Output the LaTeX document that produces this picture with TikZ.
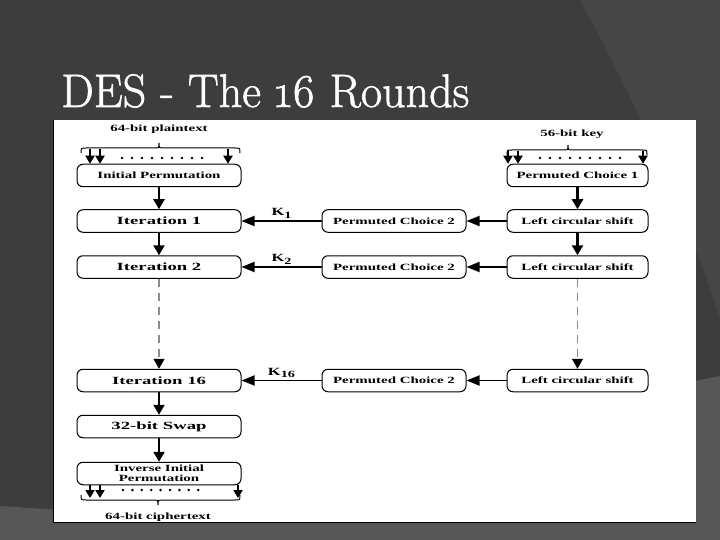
\documentclass[tikz,border=0pt]{standalone}
\usepackage{fontspec}
\newfontfamily\tms{Liberation Serif}
\newfontfamily\ttl[Numbers=OldStyle,FakeBold=1.3]{Latin Modern Roman}
\usetikzlibrary{arrows.meta}
\definecolor{bgdark}{HTML}{3D3D3D}
\definecolor{bgmid}{HTML}{464646}
\definecolor{bglight}{HTML}{575757}
\definecolor{dashgray}{HTML}{8C8C8C}
\newcommand\lbl[1]{\scalebox{1.57}[1]{\tms\fontsize{9.5}{10}\selectfont\bfseries #1}}
\newcommand\blbl[1]{\scalebox{1.7}[1]{\tms\fontsize{11}{12}\selectfont\bfseries #1}}
\newcommand\klbl[1]{\scalebox{1.5}[1]{\tms\fontsize{11}{12}\selectfont\bfseries K\raisebox{-2.5pt}{\fontsize{9.5}{10}\selectfont #1}}}
\newcommand\bracedown[4]{\draw[line width=1pt] (#1,#3+5) .. controls (#1,#3) .. (#1+5,#3) -- (#4-5,#3) .. controls (#4,#3) .. (#4,#3-5) .. controls (#4,#3) .. (#4+5,#3) -- (#2-5,#3) .. controls (#2,#3) .. (#2,#3+5);}
\newcommand\braceup[4]{\draw[line width=1pt] (#1,#3-5) .. controls (#1,#3) .. (#1+5,#3) -- (#4-5,#3) .. controls (#4,#3) .. (#4,#3+5) .. controls (#4,#3) .. (#4+5,#3) -- (#2-5,#3) .. controls (#2,#3) .. (#2,#3-5);}
\newcommand\dotrow[3]{\foreach \i in {0,...,8} {\fill (#1+\i*#3,#2) circle (1.4);}}
\begin{document}
\begin{tikzpicture}[x=1pt,y=-1pt,
  box/.style={draw, rounded corners=6pt, line width=1pt, inner sep=0pt, minimum height=22.5pt},
  lbox/.style={box, minimum width=164pt},
  rbox/.style={box, minimum width=141pt},
  mbox/.style={box, minimum width=144pt},
  thick arrow/.style={line width=2.4pt, -{Triangle[length=10pt,width=11pt]}},
  harrow/.style={line width=1.8pt, -{Triangle[length=13pt,width=10pt]}},
  inarrow/.style={line width=1.8pt, -{Triangle[length=8pt,width=9pt]}},
  dasharrow/.style={draw=dashgray, line width=1.2pt, dash pattern=on 8pt off 6pt, -{Triangle[length=10pt,width=11pt,color=black,fill=black]}},
  plain/.style={inner sep=0pt}
]
\useasboundingbox (0,0) rectangle (720,540);
% slide background
\fill[bgdark] (0,0) rectangle (720,540);
\fill[bgmid] (580,0) .. controls (630,90) and (690,220) .. (720,320) -- (720,0) -- cycle;
\fill[bglight] (0,506) -- (60,510) -- (720,376) -- (720,540) -- (0,540) -- cycle;
\node[anchor=base west, inner sep=0pt, text=white] (title) at (61,107)
  {\scalebox{0.98}[1]{\ttl\fontsize{47}{50}\selectfont DES - The 16 Rounds}};
% white panel
\fill[white] (53,120) rectangle (696,522);
\draw[black, line width=1pt] (53,120) -- (53,522) -- (696,522);

% left column
\node[plain] (pt) at (159,129) {\lbl{64-bit plaintext}};
\node[lbox] (ip) at (159,175.5) {\lbl{Initial Permutation}};
\node[lbox] (it1) at (159,221) {\blbl{Iteration 1}};
\node[lbox] (it2) at (159,267) {\blbl{Iteration 2}};
\node[lbox] (it16) at (159,380.5) {\blbl{Iteration 16}};
\node[lbox] (sw) at (159,426.5) {\blbl{32-bit Swap}};
\node[lbox, align=center] (iip) at (159,473.5) {\lbl{Inverse Initial}\\[-2.5pt]\lbl{Permutation}};
\node[plain] (ct) at (158,517) {\lbl{64-bit ciphertext}};

% right column
\node[plain] (key) at (572,134) {\lbl{56-bit key}};
\node[rbox] (pc1) at (577.5,175.5) {\lbl{Permuted Choice 1}};
\node[rbox] (ls1) at (577.5,221) {\lbl{Left circular shift}};
\node[rbox] (ls2) at (577.5,267) {\lbl{Left circular shift}};
\node[rbox] (ls16) at (577.5,380.5) {\lbl{Left circular shift}};

% middle column
\node[mbox] (pa) at (394,221) {\lbl{Permuted Choice 2}};
\node[mbox] (pb) at (394,267) {\lbl{Permuted Choice 2}};
\node[mbox] (pc) at (394,380.5) {\lbl{Permuted Choice 2}};

% braces, dots and input/output arrows
\bracedown{81}{240}{148}{159}
\coordinate (a1) at (90,149); \coordinate (a2) at (100,149); \coordinate (a3) at (228,149);
\draw[inarrow] (a1) -- (a1 |- ip.north);
\draw[inarrow] (a2) -- (a2 |- ip.north);
\draw[inarrow] (a3) -- (a3 |- ip.north);
\dotrow{122}{158}{10}

\bracedown{507}{647}{150}{568}
\coordinate (b1) at (508,151); \coordinate (b2) at (518,151); \coordinate (b3) at (643,151);
\draw[inarrow] (b1) -- (b1 |- pc1.north);
\draw[inarrow] (b2) -- (b2 |- pc1.north);
\draw[inarrow] (b3) -- (b3 |- pc1.north);
\dotrow{540}{158}{10}

\braceup{81}{240}{500}{158}
\coordinate (c1) at (90,498); \coordinate (c2) at (100,498); \coordinate (c3) at (238,498);
\draw[inarrow] (c1 |- iip.south) -- (c1);
\draw[inarrow] (c2 |- iip.south) -- (c2);
\draw[inarrow] (c3 |- iip.south) -- (c3);
\dotrow{123}{490}{9.4}

% vertical flow
\draw[thick arrow] (ip) -- (it1);
\draw[thick arrow] (it1) -- (it2);
\draw[dasharrow] (it2) -- (it16);
\draw[thick arrow] (it16) -- (sw);
\draw[thick arrow] (sw) -- (iip);
\draw[thick arrow] (pc1) -- (ls1);
\draw[thick arrow] (ls1) -- (ls2);
\draw[dasharrow] (ls2) -- (ls16);

% horizontal flow
\draw[harrow] (ls1) -- (pa);
\draw[harrow] (ls2) -- (pb);
\draw[harrow] (ls16) -- (pc);
\draw[harrow] (pa) -- node[pos=0.5, above=2pt, plain] (k1) {\klbl{1}} (it1);
\draw[harrow] (pb) -- node[pos=0.5, above=2pt, plain] (k2) {\klbl{2}} (it2);
\draw[harrow] (pc) -- node[pos=0.5, above=2pt, plain] (k16) {\klbl{16}} (it16);
\end{tikzpicture}
\end{document}
